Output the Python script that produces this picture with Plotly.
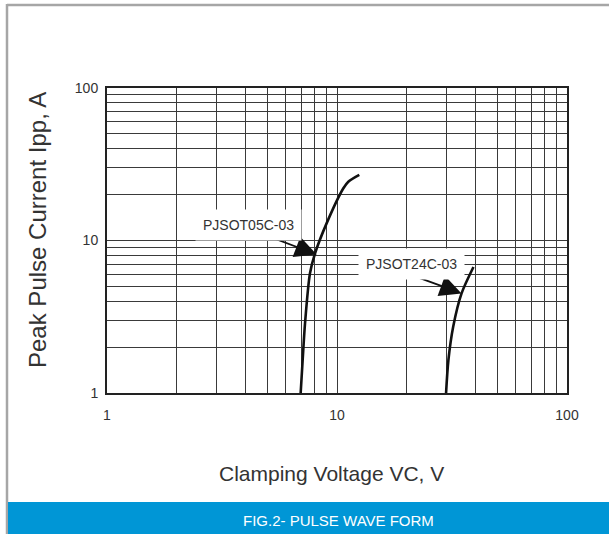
import math
import plotly.graph_objects as go

# ---- data ----
v_05c = [6.95, 7.09, 7.26, 7.63, 8.02, 9.02, 10.66, 11.2, 12.5]
i_05c = [1.0, 1.64, 2.86, 6.1, 8.2, 13.0, 22.0, 24.3, 26.9]
v_24c = [29.8, 30.5, 32.0, 34.8, 39.2]
i_24c = [1.0, 1.64, 2.72, 4.5, 6.7]
labels = ["PJSOT05C-03", "PJSOT24C-03"]
arrow_tips = [(8.16, 8.1), (34.8, 4.5)]
x_ticks = [1, 10, 100]
y_ticks = [1, 10, 100]

W, H = 609, 534
L, R, T, B = 107, 567, 88, 393


def px(x):
    return (x - L) / (R - L)


def py(y):
    return (B - y) / (B - T)


grid_vals = [m * 10 ** d for d in range(0, 2) for m in range(1, 10)] + [100]


def ticktext(vals, shown):
    return [str(v) if v in shown else "" for v in vals]


REG = "Liberation Sans, Arial"

fig = go.Figure()
fig.add_trace(go.Scatter(x=v_05c, y=i_05c, mode="lines",
                         line=dict(color="#111", width=2.6, shape="spline", smoothing=0.8),
                         showlegend=False, hoverinfo="skip"))
fig.add_trace(go.Scatter(x=v_24c, y=i_24c, mode="lines",
                         line=dict(color="#111", width=2.6, shape="spline", smoothing=0.8),
                         showlegend=False, hoverinfo="skip"))

axis_common = dict(type="log", showgrid=True, gridcolor="#3a3a3a", gridwidth=1.2,
                   showline=True, linecolor="#222", linewidth=2, mirror=True,
                   ticks="", zeroline=False,
                   tickfont=dict(family=REG, size=14, color="#333"))
fig.update_xaxes(range=[0, 2], tickmode="array", tickvals=grid_vals,
                 ticktext=ticktext(grid_vals, x_ticks), ticklabelstandoff=8, **axis_common)
fig.update_yaxes(range=[0, 2], tickmode="array", tickvals=grid_vals,
                 ticktext=ticktext(grid_vals, y_ticks), ticklabelstandoff=4, **axis_common)

shapes = [
    # outer frame lines
    dict(type="line", xref="paper", yref="paper", x0=px(7), x1=px(609), y0=py(5), y1=py(5),
         line=dict(color="#a6a6a6", width=2.5)),
    dict(type="line", xref="paper", yref="paper", x0=px(7), x1=px(7), y0=py(4), y1=py(534),
         line=dict(color="#a6a6a6", width=2.5)),
    # blue caption band
    dict(type="rect", xref="paper", yref="paper", x0=px(8), x1=px(610), y0=py(502), y1=py(535),
         fillcolor="#0096d6", line=dict(width=0), layer="above"),
]

annotations = [
    dict(text="Peak Pulse Current Ipp, A", xref="paper", yref="paper", x=px(37), y=py(230),
         textangle=-90, showarrow=False, font=dict(family=REG, size=24, color="#333"),
         xanchor="center", yanchor="middle"),
    dict(text="Clamping Voltage VC, V", xref="paper", yref="paper", x=px(331), y=py(473),
         showarrow=False, font=dict(family=REG, size=21, color="#333"),
         xanchor="center", yanchor="middle"),
    dict(text="FIG.2- PULSE WAVE FORM", xref="paper", yref="paper", x=px(338), y=py(520),
         showarrow=False, font=dict(family=REG, size=15, color="white"),
         xanchor="center", yanchor="middle"),
]

# arrows (no text, tail offset in pixels)
tails = [(260, 233), (417, 277)]
for (tv, ti), (tx, ty) in zip(arrow_tips, tails):
    tip_px = L + (R - L) * math.log10(tv) / 2
    tip_py = B - (B - T) * math.log10(ti) / 2
    annotations.append(dict(text="", x=math.log10(tv), y=math.log10(ti), xref="x", yref="y",
                            ax=tx - tip_px, ay=ty - tip_py, axref="pixel", ayref="pixel",
                            showarrow=True, arrowhead=2, arrowsize=2.4, arrowwidth=1.8,
                            arrowcolor="#111"))

# labels with white boxes
label_pos = [(248, 225), (411, 264)]
for lab, (lx, ly) in zip(labels, label_pos):
    annotations.append(dict(text=lab, xref="paper", yref="paper", x=px(lx), y=py(ly),
                            showarrow=False, bgcolor="white", borderpad=7,
                            font=dict(family=REG, size=14, color="#333"),
                            xanchor="center", yanchor="middle"))

fig.update_layout(width=W, height=H, margin=dict(l=L, r=W - R, t=T, b=H - B),
                  paper_bgcolor="white", plot_bgcolor="white",
                  shapes=shapes, annotations=annotations, showlegend=False)

fig.write_html("out.html", config={"displayModeBar": False},
               post_script="document.body.style.margin='0';document.body.style.padding='0';")
